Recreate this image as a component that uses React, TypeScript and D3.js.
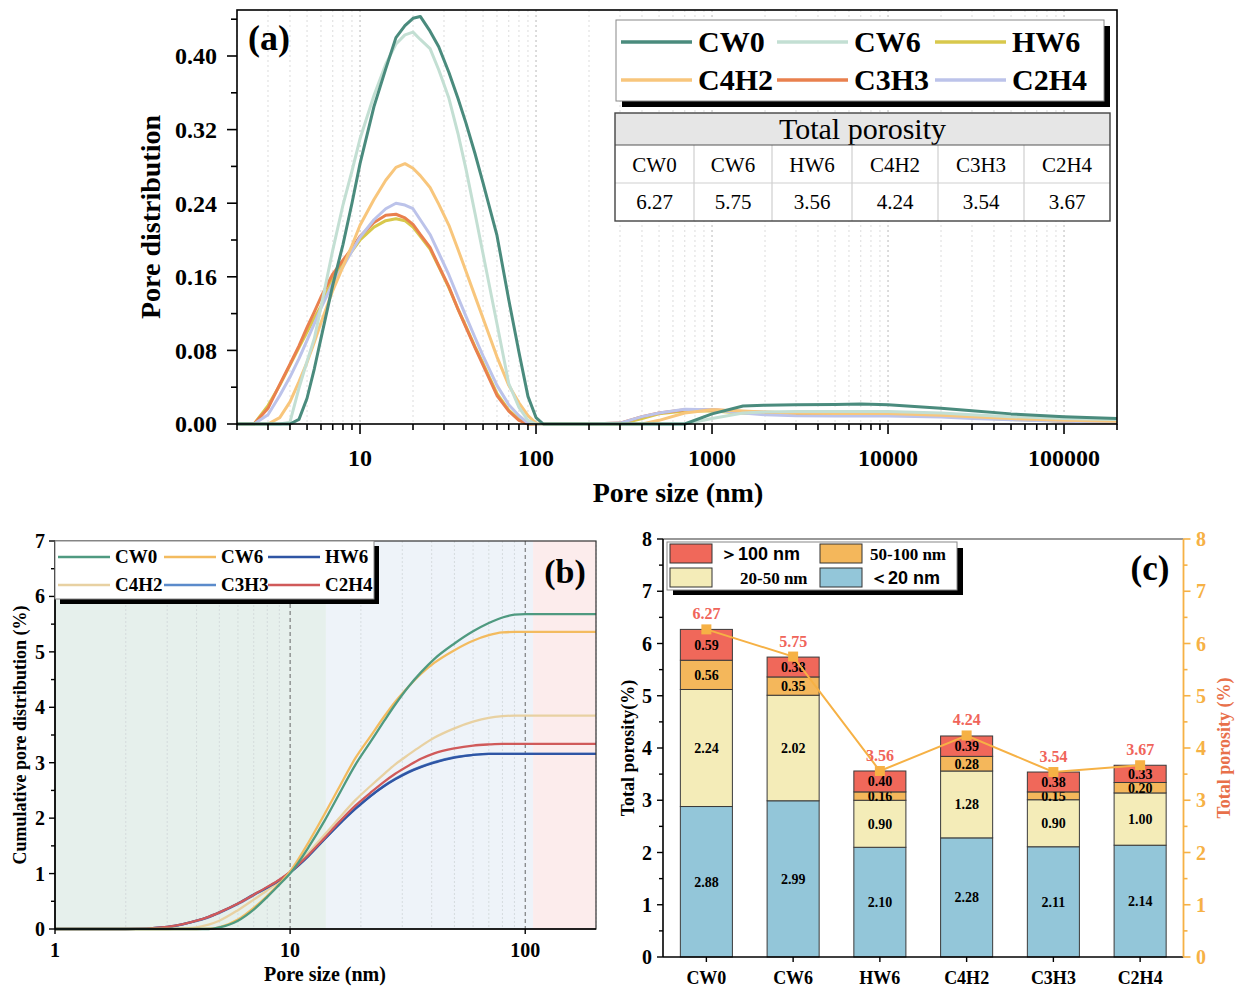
import React from 'react'
import * as d3 from 'd3'

const SERIF = '"Liberation Serif", "Times New Roman", Times, serif'
const SANS = '"Liberation Sans", Arial, sans-serif'

const SAMPLES = ['CW0', 'CW6', 'HW6', 'C4H2', 'C3H3', 'C2H4']

// ---- (a) pore distribution ----
const sizesA = [2, 2.5, 3, 3.5, 4, 4.5, 5, 5.5, 6, 7, 8, 9, 10, 12, 14, 16, 18, 20, 22, 25, 28, 32, 36, 40, 45, 50, 60, 70, 80, 90, 100, 110, 200, 300, 400, 500, 700, 1000, 1500, 2000, 3000, 5000, 7000, 10000, 20000, 30000, 50000, 100000, 200000]
const distCW0 = [0, 0, 0, 0, 0, 0.005, 0.028, 0.06, 0.093, 0.151, 0.195, 0.24, 0.283, 0.345, 0.386, 0.42, 0.433, 0.441, 0.443, 0.427, 0.41, 0.382, 0.354, 0.327, 0.294, 0.262, 0.205, 0.135, 0.078, 0.03, 0.007, 0, 0, 0, 0, 0, 0, 0.011, 0.0195, 0.0205, 0.021, 0.0213, 0.0217, 0.021, 0.017, 0.0145, 0.011, 0.008, 0.006]
const distCW6 = [0, 0, 0, 0, 0.002, 0.039, 0.068, 0.093, 0.127, 0.189, 0.238, 0.275, 0.31, 0.357, 0.391, 0.413, 0.423, 0.426, 0.418, 0.408, 0.385, 0.354, 0.316, 0.277, 0.229, 0.185, 0.109, 0.044, 0.018, 0.004, 0, 0, 0, 0, 0, 0, 0, 0.006, 0.012, 0.013, 0.0135, 0.0135, 0.0135, 0.0135, 0.012, 0.01, 0.008, 0.006, 0.005]
const distHW6 = [0, 0, 0.02, 0.042, 0.064, 0.083, 0.1, 0.115, 0.128, 0.158, 0.174, 0.188, 0.2, 0.214, 0.221, 0.223, 0.221, 0.214, 0.204, 0.19, 0.171, 0.148, 0.125, 0.106, 0.084, 0.066, 0.033, 0.015, 0.005, 0, 0, 0, 0, 0, 0.006, 0.011, 0.014, 0.014, 0.012, 0.011, 0.0105, 0.0105, 0.0105, 0.0105, 0.009, 0.007, 0.005, 0.003, 0.002]
const distC4H2 = [0, 0, 0, 0.007, 0.024, 0.046, 0.067, 0.089, 0.11, 0.145, 0.171, 0.194, 0.216, 0.244, 0.265, 0.279, 0.283, 0.278, 0.27, 0.257, 0.239, 0.216, 0.19, 0.166, 0.139, 0.115, 0.073, 0.042, 0.023, 0.009, 0.001, 0, 0, 0, 0, 0.004, 0.012, 0.0155, 0.014, 0.013, 0.012, 0.0115, 0.0115, 0.0115, 0.0095, 0.008, 0.006, 0.004, 0.003]
const distC3H3 = [0, 0, 0.017, 0.043, 0.065, 0.085, 0.105, 0.122, 0.138, 0.163, 0.178, 0.191, 0.204, 0.219, 0.227, 0.228, 0.224, 0.217, 0.206, 0.192, 0.172, 0.149, 0.125, 0.105, 0.083, 0.064, 0.031, 0.014, 0.004, 0, 0, 0, 0, 0.001, 0.008, 0.012, 0.0155, 0.0155, 0.0135, 0.0128, 0.012, 0.0117, 0.0117, 0.0115, 0.0095, 0.0085, 0.006, 0.003, 0.002]
const distC2H4 = [0, 0, 0.01, 0.031, 0.051, 0.071, 0.091, 0.109, 0.126, 0.153, 0.171, 0.188, 0.203, 0.222, 0.234, 0.24, 0.238, 0.234, 0.222, 0.206, 0.186, 0.162, 0.138, 0.117, 0.094, 0.074, 0.042, 0.021, 0.009, 0.001, 0, 0, 0, 0.001, 0.008, 0.012, 0.016, 0.0155, 0.012, 0.01, 0.009, 0.0088, 0.0088, 0.0088, 0.0075, 0.006, 0.0045, 0.003, 0.002]
const seriesA = [
  { name: 'CW0', color: '#4a8b7d', values: distCW0 },
  { name: 'CW6', color: '#c3dfd3', values: distCW6 },
  { name: 'HW6', color: '#d8c84c', values: distHW6 },
  { name: 'C4H2', color: '#f8c67c', values: distC4H2 },
  { name: 'C3H3', color: '#e9804e', values: distC3H3 },
  { name: 'C2H4', color: '#bcc3ea', values: distC2H4 },
]
const drawOrderA = ['HW6', 'C3H3', 'C2H4', 'C4H2', 'CW6', 'CW0']
const totalPorosity = [6.27, 5.75, 3.56, 4.24, 3.54, 3.67]
const tableColW = [79, 78, 80, 86, 86, 86]

// ---- (b) cumulative pore distribution ----
const sizesB = [1, 2, 3, 3.5, 4, 4.5, 5, 6, 7, 8, 9, 10, 12, 14, 16, 19, 22, 25, 28, 32, 36, 41, 50, 60, 70, 80, 90, 100, 200]
const cumCW0 = [0, 0, 0, 0, 0, 0, 0.03, 0.15, 0.35, 0.58, 0.8, 1.0, 1.48, 1.95, 2.4, 2.97, 3.38, 3.74, 4.05, 4.38, 4.63, 4.87, 5.15, 5.37, 5.52, 5.62, 5.67, 5.68, 5.68]
const cumCW6 = [0, 0, 0, 0, 0, 0.005, 0.03, 0.17, 0.38, 0.6, 0.82, 1.04, 1.57, 2.07, 2.52, 3.09, 3.48, 3.82, 4.1, 4.38, 4.6, 4.8, 5.03, 5.2, 5.3, 5.35, 5.36, 5.36, 5.36]
const cumHW6 = [0, 0, 0.04, 0.09, 0.15, 0.22, 0.3, 0.46, 0.62, 0.75, 0.88, 1.02, 1.32, 1.62, 1.87, 2.17, 2.4, 2.57, 2.7, 2.83, 2.92, 3.0, 3.09, 3.14, 3.16, 3.16, 3.16, 3.16, 3.16]
const cumC4H2 = [0, 0, 0, 0.01, 0.03, 0.08, 0.15, 0.34, 0.53, 0.7, 0.86, 1.02, 1.38, 1.7, 1.98, 2.33, 2.58, 2.79, 2.97, 3.15, 3.3, 3.45, 3.62, 3.74, 3.81, 3.84, 3.85, 3.85, 3.85]
const cumC3H3 = [0, 0, 0.035, 0.085, 0.145, 0.21, 0.29, 0.45, 0.61, 0.75, 0.88, 1.02, 1.33, 1.62, 1.88, 2.18, 2.4, 2.58, 2.71, 2.84, 2.93, 3.01, 3.1, 3.14, 3.16, 3.16, 3.16, 3.16, 3.16]
const cumC2H4 = [0, 0, 0.04, 0.09, 0.15, 0.22, 0.3, 0.46, 0.62, 0.76, 0.89, 1.03, 1.34, 1.64, 1.91, 2.23, 2.46, 2.65, 2.8, 2.95, 3.07, 3.17, 3.26, 3.31, 3.33, 3.34, 3.34, 3.34, 3.34]
const seriesB = [
  { name: 'CW0', color: '#4f9a80', values: cumCW0 },
  { name: 'CW6', color: '#f3bb5f', values: cumCW6 },
  { name: 'HW6', color: '#2f55a4', values: cumHW6 },
  { name: 'C4H2', color: '#e8d1a2', values: cumC4H2 },
  { name: 'C3H3', color: '#5b8bcb', values: cumC3H3 },
  { name: 'C2H4', color: '#d05a5a', values: cumC2H4 },
]
const drawOrderB = ['C4H2', 'C3H3', 'HW6', 'C2H4', 'CW6', 'CW0']
const zoneEdges = [1, 14.2, 108, 200]
const zoneColors = ['#e6f0ec', '#eef3f9', '#fcecec']

// ---- (c) stacked porosity by pore range ----
const under20 = [2.88, 2.99, 2.10, 2.28, 2.11, 2.14]
const from20to50 = [2.24, 2.02, 0.90, 1.28, 0.90, 1.00]
const from50to100 = [0.56, 0.35, 0.16, 0.28, 0.15, 0.20]
const over100 = [0.59, 0.38, 0.40, 0.39, 0.38, 0.33]
const rangeKeys = ['lt20', 'r2050', 'r50100', 'gt100']
const rangeColors: Record<string, string> = { lt20: '#93c6d9', r2050: '#f4ecb8', r50100: '#f4b75b', gt100: '#f0685a' }

const isDecade = (v: number) => Math.abs(Math.log10(v) - Math.round(Math.log10(v))) < 1e-9

// ================= Panel (a) =================
const A = { left: 237, right: 1117, top: 10, bottom: 424 }
const xA = d3.scaleLog().domain([2, 200000]).range([A.left, A.right])
const yA = d3.scaleLinear().domain([0, 0.45]).range([A.bottom, A.top])

const PanelA = () => {
  const xt = xA.ticks()
  const line = d3.line<number>().x((_, i) => xA(sizesA[i])).y(d => yA(d))
  const yMajor = d3.range(6).map(i => i * 0.08)
  const yMinor = d3.range(6).map(i => 0.04 + i * 0.08)
  const legCols = [621, 777, 935]
  const legRows = [42, 80]
  const colX = [615]
  tableColW.forEach((w, i) => colX.push(colX[i] + w))
  const tTop = 113, headB = 145, rowMid = 183, tBot = 221
  return (
    <g>
      {xt.map(v => (
        <line key={'g' + v} x1={xA(v)} x2={xA(v)} y1={A.top} y2={A.bottom}
          stroke={isDecade(v) ? '#b8b8b8' : '#dcdcdc'} strokeWidth={1} strokeDasharray="2,3" />
      ))}
      {drawOrderA.map(n => {
        const s = seriesA.find(d => d.name === n)!
        return <path key={n} d={line(s.values)!} fill="none" stroke={s.color} strokeWidth={3} strokeLinejoin="round" />
      })}
      <rect x={A.left} y={A.top} width={A.right - A.left} height={A.bottom - A.top} fill="none" stroke="#000" strokeWidth={1.6} />
      {xt.map(v => (
        <line key={'t' + v} x1={xA(v)} x2={xA(v)} y1={A.bottom} y2={A.bottom + (isDecade(v) ? 10 : 6)} stroke="#000" strokeWidth={1.6} />
      ))}
      {xt.filter(isDecade).map(v => (
        <text key={'l' + v} x={xA(v)} y={466} textAnchor="middle" fontSize={24} fontWeight="bold">{v}</text>
      ))}
      {yMajor.map(v => (
        <g key={'ym' + v}>
          <line x1={A.left - 10} x2={A.left} y1={yA(v)} y2={yA(v)} stroke="#000" strokeWidth={1.6} />
          <text x={217} y={yA(v)} dy="0.35em" textAnchor="end" fontSize={24} fontWeight="bold">{d3.format('.2f')(v)}</text>
        </g>
      ))}
      {yMinor.map(v => (
        <line key={'yn' + v} x1={A.left - 6} x2={A.left} y1={yA(v)} y2={yA(v)} stroke="#000" strokeWidth={1.6} />
      ))}
      <text transform={`translate(160,217) rotate(-90)`} textAnchor="middle" fontSize={28} fontWeight="bold">Pore distribution</text>
      <text x={678} y={502} textAnchor="middle" fontSize={28} fontWeight="bold">Pore size (nm)</text>
      <text x={248} y={50} fontSize={36} fontWeight="bold">(a)</text>

      {/* legend */}
      <rect x={622} y={26} width={488} height={81} fill="#000" />
      <rect x={616} y={20} width={488} height={81} fill="#fff" stroke="#888" strokeWidth={1} />
      {seriesA.map((s, i) => {
        const cx = legCols[i % 3], cy = legRows[Math.floor(i / 3)]
        return (
          <g key={'lg' + s.name}>
            <line x1={cx} x2={cx + 71} y1={cy} y2={cy} stroke={s.color} strokeWidth={3.5} />
            <text x={cx + 77} y={cy} dy="0.34em" fontSize={30} fontWeight="bold">{s.name}</text>
          </g>
        )
      })}

      {/* total porosity table */}
      <rect x={colX[0]} y={tTop} width={colX[6] - colX[0]} height={headB - tTop} fill="#e6e6e6" />
      <rect x={colX[0]} y={headB} width={colX[6] - colX[0]} height={tBot - headB} fill="#fff" />
      <text x={(colX[0] + colX[6]) / 2} y={139} textAnchor="middle" fontSize={30}>Total porosity</text>
      {SAMPLES.map((s, i) => (
        <g key={'tb' + s}>
          <text x={(colX[i] + colX[i + 1]) / 2} y={172} textAnchor="middle" fontSize={21}>{s}</text>
          <text x={(colX[i] + colX[i + 1]) / 2} y={209} textAnchor="middle" fontSize={21}>{totalPorosity[i].toFixed(2)}</text>
        </g>
      ))}
      {colX.slice(1, 6).map(x => (
        <line key={'cs' + x} x1={x} x2={x} y1={headB} y2={tBot} stroke="#cfcfcf" strokeWidth={1.2} />
      ))}
      <line x1={colX[0]} x2={colX[6]} y1={rowMid} y2={rowMid} stroke="#cfcfcf" strokeWidth={1.2} />
      <line x1={colX[0]} x2={colX[6]} y1={headB} y2={headB} stroke="#555" strokeWidth={1.2} />
      <rect x={colX[0]} y={tTop} width={colX[6] - colX[0]} height={tBot - tTop} fill="none" stroke="#444" strokeWidth={1.4} />
    </g>
  )
}

// ================= Panel (b) =================
const B = { left: 55, right: 596, top: 541, bottom: 929 }
const xB = d3.scaleLog().domain([1, 200]).range([B.left, B.right])
const yB = d3.scaleLinear().domain([0, 7]).range([B.bottom, B.top])

const PanelB = () => {
  const xt = xB.ticks()
  const line = d3.line<number>().x((_, i) => xB(sizesB[i])).y(d => yB(d)).curve(d3.curveMonotoneX)
  const yMajor = d3.range(8)
  const yMinor = d3.range(7).map(i => i + 0.5)
  const legCols = [58, 164, 268]
  const legRows = [557, 585]
  return (
    <g>
      {zoneColors.map((c, i) => (
        <rect key={'z' + i} x={xB(zoneEdges[i])} y={B.top} width={xB(zoneEdges[i + 1]) - xB(zoneEdges[i])} height={B.bottom - B.top} fill={c} />
      ))}
      {xt.filter(v => !isDecade(v)).map(v => (
        <line key={'g' + v} x1={xB(v)} x2={xB(v)} y1={B.top} y2={B.bottom} stroke="#cfd6d8" strokeWidth={0.8} strokeDasharray="2,2" />
      ))}
      {[10, 100].map(v => (
        <line key={'gd' + v} x1={xB(v)} x2={xB(v)} y1={B.top} y2={B.bottom} stroke="#666" strokeWidth={1} strokeDasharray="4,3" />
      ))}
      {drawOrderB.map(n => {
        const s = seriesB.find(d => d.name === n)!
        return <path key={n} d={line(s.values)!} fill="none" stroke={s.color} strokeWidth={2.3} />
      })}
      <rect x={B.left} y={B.top} width={B.right - B.left} height={B.bottom - B.top} fill="none" stroke="#333" strokeWidth={1.2} />
      <line x1={B.left} x2={B.right} y1={B.bottom} y2={B.bottom} stroke="#000" strokeWidth={1.6} />
      <line x1={B.left} x2={B.left} y1={B.top} y2={B.bottom} stroke="#000" strokeWidth={1.6} />
      {yMajor.map(v => (
        <g key={'ym' + v}>
          <line x1={B.left - 6} x2={B.left} y1={yB(v)} y2={yB(v)} stroke="#000" strokeWidth={1.4} />
          <text x={45} y={yB(v)} dy="0.35em" textAnchor="end" fontSize={20} fontWeight="bold">{v}</text>
        </g>
      ))}
      {yMinor.map(v => (
        <line key={'yn' + v} x1={B.left - 4} x2={B.left} y1={yB(v)} y2={yB(v)} stroke="#000" strokeWidth={1.4} />
      ))}
      {[1, 10, 100].map(v => (
        <g key={'xl' + v}>
          <line x1={xB(v)} x2={xB(v)} y1={B.bottom} y2={B.bottom + 5} stroke="#000" strokeWidth={1.4} />
          <text x={xB(v)} y={957} textAnchor="middle" fontSize={20} fontWeight="bold">{v}</text>
        </g>
      ))}
      <text transform={`translate(26,735) rotate(-90)`} textAnchor="middle" fontSize={18} fontWeight="bold">Cumulative pore distribution (%)</text>
      <text x={325} y={981} textAnchor="middle" fontSize={20} fontWeight="bold">Pore size (nm)</text>
      <text x={565} y={583} textAnchor="middle" fontSize={34} fontWeight="bold">(b)</text>

      <rect x={60} y={546} width={319} height={58} fill="#000" />
      <rect x={55} y={541} width={319} height={58} fill="#fff" stroke="#888" strokeWidth={1} />
      {seriesB.map((s, i) => {
        const cx = legCols[i % 3], cy = legRows[Math.floor(i / 3)]
        return (
          <g key={'lg' + s.name}>
            <line x1={cx} x2={cx + 52} y1={cy} y2={cy} stroke={s.color} strokeWidth={2.5} />
            <text x={cx + 57} y={cy} dy="0.34em" fontSize={19} fontWeight="bold">{s.name}</text>
          </g>
        )
      })}
    </g>
  )
}

// ================= Panel (c) =================
const C = { left: 663, right: 1183.5, top: 539, bottom: 957 }
const xC = d3.scaleBand().domain(SAMPLES).range([C.left, C.right]).paddingInner(0.4).paddingOuter(0.2)
const yC = d3.scaleLinear().domain([0, 8]).range([C.bottom, C.top])

const PanelC = () => {
  const rows = SAMPLES.map((s, i) => ({ sample: s, lt20: under20[i], r2050: from20to50[i], r50100: from50to100[i], gt100: over100[i] }))
  const layers = d3.stack<any>().keys(rangeKeys)(rows)
  const bw = xC.bandwidth()
  const cx = (s: string) => xC(s)! + bw / 2
  const totalLine = d3.line<number>().x((_, i) => cx(SAMPLES[i])).y(d => yC(d))
  const yMajor = d3.range(9)
  const yMinor = d3.range(8).map(i => i + 0.5)
  const orange = '#f6b145'
  const legItems = [
    { key: 'gt100', label: '＞100 nm', font: SANS, col: 0, row: 0, dx: 0 },
    { key: 'r50100', label: '50-100 nm', font: SERIF, col: 1, row: 0, dx: 0 },
    { key: 'r2050', label: '20-50 nm', font: SERIF, col: 0, row: 1, dx: 20 },
    { key: 'lt20', label: '＜20 nm', font: SANS, col: 1, row: 1, dx: 0 },
  ]
  const legCols = [670, 820]
  const legRows = [544, 568]
  return (
    <g>
      {layers.map(layer => (
        <g key={layer.key}>
          {layer.map(d => (
            <g key={d.data.sample}>
              <rect x={xC(d.data.sample)} y={yC(d[1])} width={bw} height={yC(d[0]) - yC(d[1])}
                fill={rangeColors[layer.key]} stroke="#3a3a3a" strokeWidth={1} />
              <text x={cx(d.data.sample)} y={yC((d[0] + d[1]) / 2)} dy="0.35em" textAnchor="middle" fontSize={14} fontWeight="bold">
                {d.data[layer.key].toFixed(2)}
              </text>
            </g>
          ))}
        </g>
      ))}
      <path d={totalLine(totalPorosity)!} fill="none" stroke={orange} strokeWidth={2} />
      {totalPorosity.map((v, i) => (
        <g key={'tp' + i}>
          <rect x={cx(SAMPLES[i]) - 5} y={yC(v) - 5} width={10} height={10} fill={orange} />
          <text x={cx(SAMPLES[i])} y={yC(v) - 10} textAnchor="middle" fontSize={16} fontWeight="bold" fill="#f0645a">{v.toFixed(2)}</text>
        </g>
      ))}
      <line x1={C.left} x2={C.right} y1={C.top} y2={C.top} stroke="#333" strokeWidth={1.2} />
      <line x1={C.left} x2={C.right} y1={C.bottom} y2={C.bottom} stroke="#000" strokeWidth={1.6} />
      <line x1={C.left} x2={C.left} y1={C.top} y2={C.bottom} stroke="#000" strokeWidth={1.6} />
      <line x1={C.right} x2={C.right} y1={C.top} y2={C.bottom} stroke={orange} strokeWidth={1.8} />
      {yMajor.map(v => (
        <g key={'ym' + v}>
          <line x1={C.left - 6} x2={C.left} y1={yC(v)} y2={yC(v)} stroke="#000" strokeWidth={1.4} />
          <text x={652} y={yC(v)} dy="0.35em" textAnchor="end" fontSize={20} fontWeight="bold">{v}</text>
          <line x1={C.right} x2={C.right + 7} y1={yC(v)} y2={yC(v)} stroke={orange} strokeWidth={1.6} />
          <text x={1196} y={yC(v)} dy="0.35em" fontSize={20} fontWeight="bold" fill={orange}>{v}</text>
        </g>
      ))}
      {yMinor.map(v => (
        <g key={'yn' + v}>
          <line x1={C.left - 4} x2={C.left} y1={yC(v)} y2={yC(v)} stroke="#000" strokeWidth={1.4} />
          <line x1={C.right} x2={C.right + 4} y1={yC(v)} y2={yC(v)} stroke={orange} strokeWidth={1.6} />
        </g>
      ))}
      {SAMPLES.map(s => (
        <g key={'xl' + s}>
          <line x1={cx(s)} x2={cx(s)} y1={C.bottom} y2={C.bottom + 5} stroke="#000" strokeWidth={1.4} />
          <text x={cx(s)} y={984} textAnchor="middle" fontSize={18} fontWeight="bold">{s}</text>
        </g>
      ))}
      <text transform={`translate(634,748) rotate(-90)`} textAnchor="middle" fontSize={18} fontWeight="bold">Total porosity(%)</text>
      <text transform={`translate(1230,748) rotate(-90)`} textAnchor="middle" fontSize={18} fontWeight="bold" fill="#e8704a">Total porosity (%)</text>
      <text x={1150} y={580} textAnchor="middle" fontSize={35} fontWeight="bold">(c)</text>

      <rect x={673} y={548} width={290} height={47} fill="#000" />
      <rect x={667} y={542} width={290} height={48} fill="#fff" stroke="#888" strokeWidth={1} />
      {legItems.map(it => {
        const x = legCols[it.col], y = legRows[it.row]
        return (
          <g key={'lg' + it.key}>
            <rect x={x} y={y} width={42} height={19} fill={rangeColors[it.key]} stroke="#333" strokeWidth={1} />
            <text x={x + 50 + it.dx} y={y + 10} dy="0.35em" fontSize={it.font === SANS ? 18 : 17} fontWeight="bold" fontFamily={it.font}>{it.label}</text>
          </g>
        )
      })}
    </g>
  )
}

export default function App() {
  return (
    <svg width={1239} height={988} style={{ position: 'absolute', left: 0, top: 0 }} fontFamily={SERIF}>
      <rect width={1239} height={988} fill="#fff" />
      <PanelA />
      <PanelB />
      <PanelC />
    </svg>
  )
}
